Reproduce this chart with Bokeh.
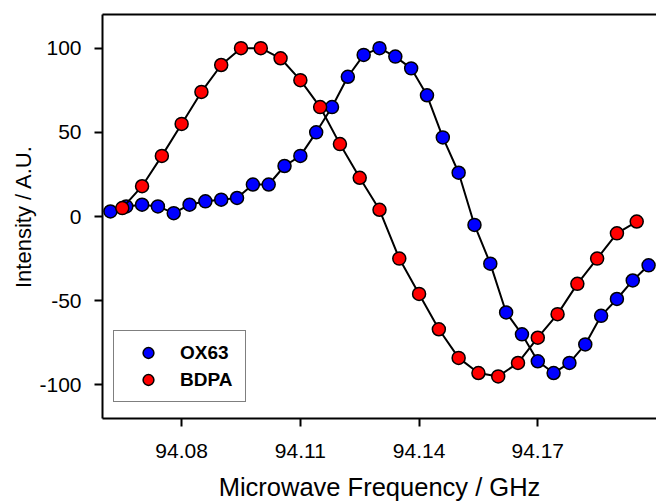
from bokeh.plotting import figure
from bokeh.models import (LinearAxis, Legend, LegendItem, FixedTicker, Range1d,
                          ColumnDataSource)
from bokeh.embed import file_html
from bokeh.resources import INLINE

# ---- data ----
freq_ox63 = [94.062, 94.066, 94.070, 94.074, 94.078, 94.082, 94.086, 94.090,
             94.094, 94.098, 94.102, 94.106, 94.110, 94.114, 94.118, 94.122,
             94.126, 94.130, 94.134, 94.138, 94.142, 94.146, 94.150, 94.154,
             94.158, 94.162, 94.166, 94.170, 94.174, 94.178, 94.182, 94.186,
             94.190, 94.194, 94.198]
int_ox63 = [3, 6, 7, 6, 2, 7, 9, 10, 11, 19, 19, 30, 36, 50, 65, 83, 96, 100,
            95, 88, 72, 47, 26, -5, -28, -57, -70, -86, -93, -87, -76, -59,
            -49, -38, -29]

freq_bdpa = [94.065, 94.070, 94.075, 94.080, 94.085, 94.090, 94.095, 94.100,
             94.105, 94.110, 94.115, 94.120, 94.125, 94.130, 94.135, 94.140,
             94.145, 94.150, 94.155, 94.160, 94.165, 94.170, 94.175, 94.180,
             94.185, 94.190, 94.195]
int_bdpa = [5, 18, 36, 55, 74, 90, 100, 100, 94, 81, 65, 43, 23, 4, -25, -46,
            -67, -84, -93, -95, -87, -72, -58, -40, -25, -10, -3]

x_ticks = [94.08, 94.11, 94.14, 94.17]
x_tick_labels = ["94.08", "94.11", "94.14", "94.17"]
y_ticks = [-100, -50, 0, 50, 100]
y_tick_labels = ["-100", "-50", "0", "50", "100"]

FONT = "Liberation Sans"

p = figure(width=656, height=504,
           x_range=Range1d(94.06, 94.2), y_range=Range1d(-120, 120),
           output_backend="svg", toolbar_location=None,
           min_border_left=102, min_border_right=0,
           min_border_top=14, min_border_bottom=86,
           x_axis_label="Microwave Frequency / GHz",
           y_axis_label="Intensity / A.U.")
p.grid.visible = False
p.outline_line_color = None
p.background_fill_color = "white"
p.border_fill_color = "white"

for ax in (p.xaxis[0], p.yaxis[0]):
    ax.axis_line_width = 2
    ax.axis_line_color = "black"
    ax.major_tick_line_width = 2
    ax.major_tick_line_color = "black"
    ax.major_tick_out = 8
    ax.major_tick_in = 0
    ax.minor_tick_line_color = None
    ax.major_label_text_font = FONT
    ax.major_label_text_font_size = "21px"
    ax.major_label_text_color = "black"
    ax.axis_label_text_font = FONT
    ax.axis_label_text_font_style = "normal"
    ax.axis_label_text_color = "black"

p.xaxis[0].ticker = FixedTicker(ticks=x_ticks)
p.xaxis[0].major_label_overrides = dict(zip(x_ticks, x_tick_labels))
p.xaxis[0].major_label_standoff = 17
p.xaxis[0].axis_label_text_font_size = "25.5px"
p.xaxis[0].axis_label_standoff = 12

p.yaxis[0].ticker = FixedTicker(ticks=y_ticks)
p.yaxis[0].major_label_overrides = dict(zip(y_ticks, y_tick_labels))
p.yaxis[0].major_label_standoff = 13
p.yaxis[0].axis_label_text_font_size = "22px"
p.yaxis[0].axis_label_standoff = 0

top = LinearAxis(ticker=FixedTicker(ticks=[]), axis_line_width=2,
                 axis_line_color="black", major_tick_line_color=None,
                 minor_tick_line_color=None, major_label_text_font_size="0px")
p.add_layout(top, "above")

src_ox = ColumnDataSource(dict(x=freq_ox63, y=int_ox63))
src_bd = ColumnDataSource(dict(x=freq_bdpa, y=int_bdpa))

p.line("x", "y", source=src_ox, line_color="black", line_width=2)
r_ox = p.scatter("x", "y", source=src_ox, size=13, fill_color="#0000FF",
                 line_color="black", line_width=1.5)
p.line("x", "y", source=src_bd, line_color="black", line_width=2)
r_bd = p.scatter("x", "y", source=src_bd, size=13, fill_color="#FF0000",
                 line_color="black", line_width=1.5)

legend = Legend(items=[LegendItem(label="OX63", renderers=[r_ox]),
                       LegendItem(label="BDPA", renderers=[r_bd])],
                location=(11, 16), glyph_width=52, glyph_height=27,
                spacing=0, padding=8, label_standoff=6, label_width=57,
                margin=0,
                label_text_font=FONT, label_text_font_style="bold",
                label_text_font_size="19px", label_text_color="black",
                border_line_color="black", border_line_width=1.5,
                background_fill_color="white", background_fill_alpha=1)
p.add_layout(legend, "center")

open("out.html", "w").write(file_html(p, INLINE))
